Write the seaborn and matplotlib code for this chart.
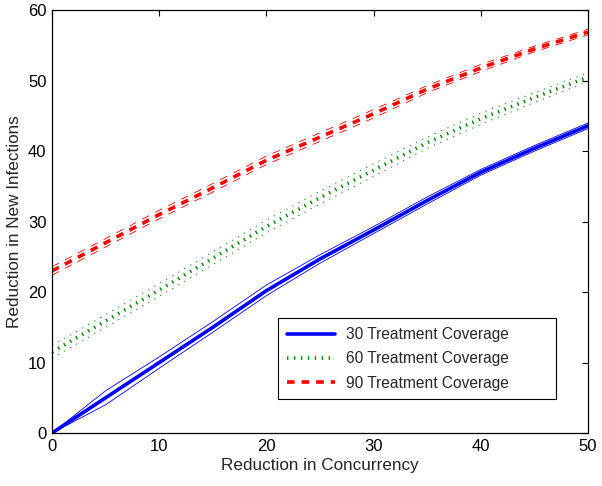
import numpy as np
import pandas as pd
import seaborn as sns
import matplotlib.pyplot as plt

# Reduction in concurrency (x axis)
conc = [0, 5, 10, 15, 20, 25, 30, 35, 40, 45, 50]

# 30% treatment coverage
cov30 = [0, 5.0, 10.0, 15.0, 20.2, 24.7, 28.8, 33.0, 37.0, 40.4, 43.6]
cov30_hi = [0, 6.0, 10.8, 15.8, 21.0, 25.3, 29.3, 33.5, 37.4, 40.8, 44.0]
cov30_lo = [0, 4.0, 9.2, 14.3, 19.5, 24.1, 28.3, 32.5, 36.6, 40.0, 43.2]

# 60% treatment coverage
cov60 = [11.5, 15.9, 20.3, 24.8, 29.3, 33.4, 37.3, 41.2, 44.6, 47.6, 50.5]
cov60_hi = [12.4, 16.8, 21.2, 25.7, 30.2, 34.3, 38.2, 42.0, 45.4, 48.3, 51.1]
cov60_lo = [10.6, 15.0, 19.4, 23.9, 28.4, 32.5, 36.4, 40.4, 43.8, 46.9, 49.9]

# 90% treatment coverage
cov90 = [23.0, 27.0, 31.0, 34.8, 38.7, 42.0, 45.3, 48.8, 51.8, 54.5, 56.9]
cov90_hi = [23.6, 27.6, 31.6, 35.4, 39.3, 42.6, 45.9, 49.3, 52.3, 54.9, 57.3]
cov90_lo = [22.4, 26.4, 30.4, 34.2, 38.1, 41.4, 44.7, 48.3, 51.3, 54.1, 56.5]

labels = ['30 Treatment Coverage', '60 Treatment Coverage', '90 Treatment Coverage']

sns.set_style('white')
plt.rcParams['font.family'] = ['Liberation Sans', 'DejaVu Sans']
plt.rcParams['lines.scale_dashes'] = False

fig = plt.figure(figsize=(6.02, 4.86), dpi=100)
ax = fig.add_axes([0.0864, 0.109, 0.8903, 0.870])

blue = (0, 0, 1)
green = (0, 0.5, 0)
red = (1, 0, 0)
dash = (0, (5.5, 5.0))
dot = (0, (1.0, 4.0))

series = [
    (cov30, cov30_hi, cov30_lo, blue, '-'),
    (cov60, cov60_hi, cov60_lo, green, dot),
    (cov90, cov90_hi, cov90_lo, red, dash),
]

for (mid, hi, lo, col, ls), lab in zip(series, labels):
    for b in (hi, lo):
        sns.lineplot(x=conc, y=b, ax=ax, color=col, linestyle=ls, linewidth=0.6)
    sns.lineplot(x=conc, y=mid, ax=ax, color=col, linestyle=ls, linewidth=2.6, label=lab)

ax.set_xlim(0, 50)
ax.set_ylim(0, 60)
ax.set_xticks([0, 10, 20, 30, 40, 50])
ax.set_yticks([0, 10, 20, 30, 40, 50, 60])
ax.tick_params(direction='in', length=4, width=0.8, labelsize=12, top=True, right=True,
               colors='black', pad=4)
for s in ax.spines.values():
    s.set_color('black')
    s.set_linewidth(0.9)

ax.set_xlabel('Reduction in Concurrency', fontsize=12.3, labelpad=3)
ax.set_ylabel('Reduction in New Infections', fontsize=12.3, labelpad=4)

leg = ax.legend(loc='lower left', bbox_to_anchor=(0.4216, 0.080, 0.519, 0.194), mode='expand',
                fontsize=11.2, frameon=True, fancybox=False, edgecolor='black', framealpha=1,
                borderpad=0.55, labelspacing=0.6, handlelength=3.1, handletextpad=0.75,
                borderaxespad=0)
leg.get_frame().set_linewidth(0.8)

fig.savefig('out.png', dpi=100)
